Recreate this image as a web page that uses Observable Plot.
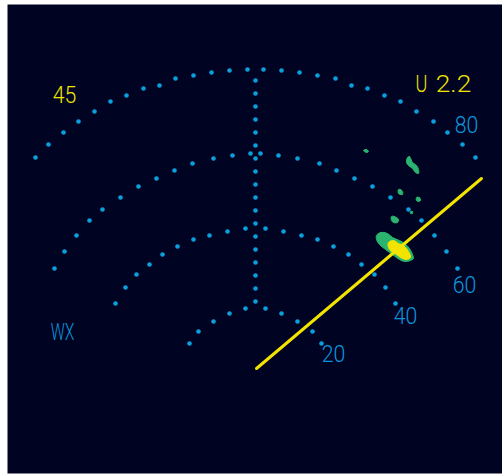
<!DOCTYPE html>
<html>
<head>
<meta charset="utf-8">
<script src="https://cdn.jsdelivr.net/npm/d3@7"></script>
<script src="https://cdn.jsdelivr.net/npm/@observablehq/plot@0.6"></script>
<style>
  html, body { margin: 0; padding: 0; background: #ffffff; }
  #chart svg { display: block; }
</style>
</head>
<body>
<div id="chart"></div>
<script>
// Display units: x = lateral offset from the centre line, y = height above the bottom edge.
const ring80 = [[-220,316],[-207,329],[-192,341],[-177,352],[-161,362],[-145,372],[-129,378],[-112,385],[-96,388],[-80,395],[-62,398],[-44,401],[-26,403],[-8,404],[8,404],[26,403],[44,401],[62,398],[80,395],[96,388],[112,385],[129,378],[145,372],[161,362],[178,352],[192,341],[207,329],[220,316]];
const ring60 = [[-201,205],[-191,222],[-179,238],[-166,253],[-153,264],[-135,276],[-117,287],[-99,295],[-81,303],[-63,310],[-42,315],[-23,318],[-5,320],[5,320],[23,318],[42,315],[64,310],[81,303],[99,295],[117,287],[135,276],[153,264],[166,253],[179,238],[191,222],[202,205]];
const ring40 = [[-140,170],[-130,186],[-119,199],[-106,209],[-93,219],[-78,227],[-62,234],[-46,238],[-28,242],[-10,245],[10,245],[28,242],[46,238],[62,234],[78,227],[93,219],[106,209],[119,199],[130,186],[140,170]];
const ring20 = [[-66,130],[-57,142],[-42,152],[-26,160],[-10,165],[10,165],[26,160],[42,152],[57,142],[66,130]];
const centreLine = [393,380,367,354,341,328,315,302,289,276,263,250,237,224,211,198,185,172];

const rangeLabels = [
  {label: "80", x: 211, y: 348},
  {label: "60", x: 209, y: 188},
  {label: "40", x: 150, y: 157},
  {label: "20", x: 78, y: 119}
];
const modeLabels = [{label: "WX", x: -193, y: 141}];
const yellowLabels = [
  {label: "45", x: -191, y: 378},
  {label: "U", x: 166, y: 389},
  {label: "2.2", x: 198, y: 389}
];

const headingLine = [[1,105],[226,295]];

// Weather returns (outlines)
const cellMain = [[121,238],[125,241],[132,240],[137,236],[144,233],[149,230],[154,225],[157,219],[158,215],[155,213],[149,212],[144,214],[137,219],[130,224],[124,229],[121,234]];
const cellCore = [[133,231],[138,233],[143,230],[149,227],[153,222],[155,216],[151,214],[145,216],[141,219],[136,222],[133,226]];
const cellNE = [[152,316],[154,317],[157,311],[161,308],[163,304],[163,300],[160,301],[157,305],[153,308],[151,311]];
const cellA = [[143,284],[145,284],[147,282],[147,279],[145,279],[143,280]];
const cellB = [[161,276],[164,276],[165,273],[163,272],[161,273]];
const cellC = [[136,257],[139,257],[143,254],[142,251],[138,251],[136,253]];
const cellD = [[155,262],[157,262],[157,260],[155,260]];
const cellE = [[108,323],[111,324],[113,322],[111,321]];

const toPts = (arr) => arr.map(([x, y]) => ({x, y}));
const cells = [cellMain, cellNE, cellA, cellB, cellC, cellD, cellE];

const bg = "#000322";
const blue = "#0aa0dc";
const textBlue = "#0a96dc";
const yellow = "#f2e400";
const green = "#2ab470";
const font = "Roboto, 'DejaVu Sans', sans-serif";

const allRings = [ring80, ring60, ring40, ring20].flatMap(toPts)
  .concat(centreLine.map(y => ({x: 0, y})));

const textOpts = {x: "x", y: "y", text: "label", fontSize: 24.5, fontFamily: font, fontWeight: 300};

const chart = Plot.plot({
  width: 502,
  height: 474,
  marginLeft: 7,
  marginTop: 4,
  marginRight: 0,
  marginBottom: 1,
  x: {domain: [-248, 247], axis: null},
  y: {domain: [0, 469], axis: null},
  style: {background: "#ffffff", fontFamily: font},
  marks: [
    Plot.frame({fill: bg, stroke: null}),
    Plot.dot(allRings, {x: "x", y: "y", r: 2.3, fill: blue, stroke: null}),
    ...cells.map(c => Plot.line(toPts(c), {x: "x", y: "y", fill: green, stroke: green, strokeWidth: 1, curve: "catmull-rom-closed"})),
    Plot.line(toPts(cellCore), {x: "x", y: "y", fill: yellow, stroke: yellow, strokeWidth: 1, curve: "catmull-rom-closed"}),
    Plot.line(toPts(headingLine), {x: "x", y: "y", stroke: yellow, strokeWidth: 3}),
    Plot.text(rangeLabels, {...textOpts, fill: textBlue}),
    Plot.text(modeLabels, {...textOpts, fill: textBlue}),
    Plot.text(yellowLabels, {...textOpts, fill: yellow})
  ]
});
document.getElementById("chart").appendChild(chart);
// Monospaced display look: fixed advance per character
chart.querySelectorAll("text").forEach(t => {
  const s = t.textContent || "";
  t.setAttribute("textLength", (s.length * 11.8).toFixed(1));
  t.setAttribute("lengthAdjust", "spacingAndGlyphs");
});
</script>
</body>
</html>
